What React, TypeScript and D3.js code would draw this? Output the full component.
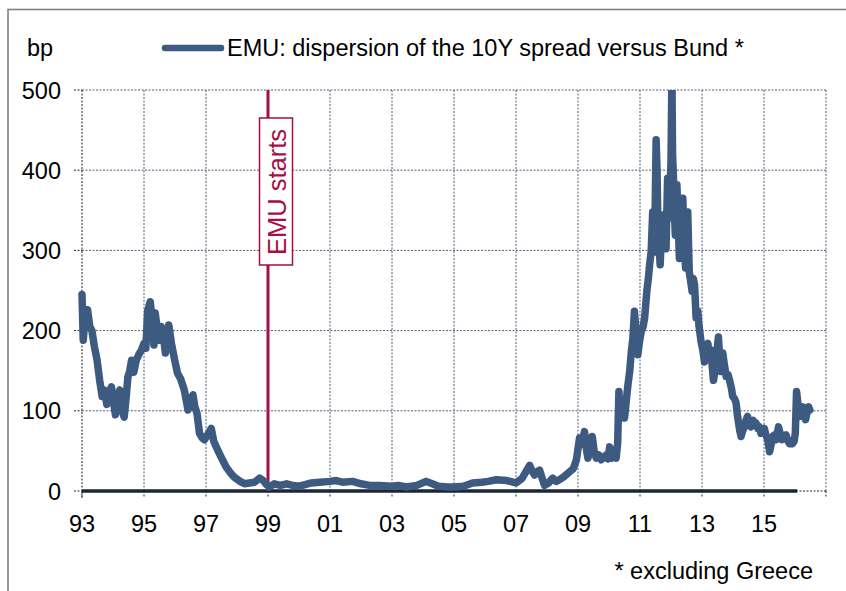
import React from "react";
import * as d3 from "d3";

const dates: number[] = [
  1993.00, 1993.04, 1993.10, 1993.18, 1993.25, 1993.32, 1993.40, 1993.48, 1993.57, 1993.65,
  1993.72, 1993.80, 1993.88, 1993.95, 1994.02, 1994.08, 1994.15, 1994.22, 1994.30, 1994.36,
  1994.42, 1994.48, 1994.54, 1994.60, 1994.67, 1994.75, 1994.83, 1994.92, 1995.00, 1995.06,
  1995.12, 1995.20, 1995.26, 1995.32, 1995.36, 1995.42, 1995.50, 1995.56, 1995.62, 1995.69,
  1995.80, 1995.88, 1995.99, 1996.08, 1996.18, 1996.30, 1996.42, 1996.50, 1996.58, 1996.64,
  1996.71, 1996.79, 1996.88, 1996.95, 1997.05, 1997.17, 1997.25, 1997.33, 1997.49, 1997.65,
  1997.80, 1997.92, 1998.10, 1998.24, 1998.40, 1998.57, 1998.73, 1998.85, 1998.95, 1999.05,
  1999.20, 1999.40, 1999.60, 1999.80, 2000.00, 2000.20, 2000.40, 2000.67, 2001.00, 2001.20,
  2001.40, 2001.73, 2002.00, 2002.28, 2002.60, 2003.00, 2003.20, 2003.47, 2003.80, 2004.10,
  2004.30, 2004.50, 2004.80, 2005.00, 2005.30, 2005.60, 2005.90, 2006.10, 2006.37, 2006.70,
  2007.00, 2007.20, 2007.35, 2007.44, 2007.52, 2007.60, 2007.68, 2007.76, 2007.85, 2007.92,
  2008.05, 2008.18, 2008.30, 2008.40, 2008.55, 2008.73, 2008.85, 2008.95, 2009.05, 2009.12,
  2009.21, 2009.28, 2009.32, 2009.40, 2009.46, 2009.52, 2009.59, 2009.67, 2009.75, 2009.83,
  2009.91, 2009.97, 2010.02, 2010.10, 2010.17, 2010.23, 2010.28, 2010.32, 2010.36, 2010.39,
  2010.44, 2010.50, 2010.55, 2010.61, 2010.67, 2010.72, 2010.77, 2010.82, 2010.88, 2010.93,
  2010.98, 2011.04, 2011.10, 2011.15, 2011.22, 2011.27, 2011.31, 2011.36, 2011.41, 2011.44,
  2011.47, 2011.52, 2011.55, 2011.57, 2011.61, 2011.65, 2011.69, 2011.73, 2011.78, 2011.84,
  2011.89, 2011.92, 2011.95, 2012.00, 2012.03, 2012.05, 2012.08, 2012.11, 2012.14, 2012.19,
  2012.23, 2012.27, 2012.33, 2012.38, 2012.42, 2012.47, 2012.50, 2012.54, 2012.57, 2012.59,
  2012.64, 2012.68, 2012.72, 2012.76, 2012.81, 2012.86, 2012.90, 2012.97, 2013.03, 2013.08,
  2013.13, 2013.19, 2013.24, 2013.29, 2013.33, 2013.37, 2013.42, 2013.46, 2013.53, 2013.57,
  2013.60, 2013.67, 2013.73, 2013.78, 2013.84, 2013.89, 2013.95, 2013.99, 2014.05, 2014.10,
  2014.14, 2014.18, 2014.22, 2014.26, 2014.31, 2014.37, 2014.42, 2014.47, 2014.52, 2014.58,
  2014.65, 2014.70, 2014.74, 2014.80, 2014.85, 2014.90, 2014.95, 2015.01, 2015.06, 2015.12,
  2015.18, 2015.23, 2015.28, 2015.34, 2015.39, 2015.43, 2015.47, 2015.52, 2015.58, 2015.64,
  2015.71, 2015.76, 2015.82, 2015.87, 2015.92, 2015.97, 2016.01, 2016.05, 2016.09, 2016.14,
  2016.19, 2016.25, 2016.30, 2016.34, 2016.39, 2016.44, 2016.48,
];

const spread: number[] = [
  245, 188, 218, 226, 205, 200, 180, 165, 138, 118,
  126, 108, 122, 130, 110, 95, 118, 126, 100, 92,
  115, 142, 150, 163, 148, 163, 170, 176, 184, 178,
  225, 236, 215, 182, 222, 205, 188, 205, 195, 172,
  207, 185, 163, 147, 140, 126, 101, 112, 120, 105,
  97, 72, 66, 64, 70, 78, 62, 55, 42, 30,
  22, 17, 12, 9, 10, 11, 16, 13, 8, 5,
  9, 7, 9, 7, 6, 8, 10, 11, 12, 13,
  11, 12, 9, 7, 7, 6, 7, 5, 7, 12,
  9, 6, 5, 5, 6, 10, 11, 12, 14, 13,
  10, 16, 26, 32, 25, 20, 24, 26, 15, 7,
  10, 16, 12, 14, 18, 24, 28, 39, 66, 58,
  74, 50, 41, 55, 68, 50, 41, 45, 39, 42,
  45, 40, 55, 41, 50, 41, 60, 124, 100, 91,
  105, 91, 110, 132, 150, 174, 190, 224, 195, 170,
  185, 199, 205, 216, 249, 265, 282, 298, 348, 310,
  298, 438, 400, 348, 310, 282, 320, 344, 320, 302,
  390, 340, 352, 410, 520, 420, 390, 350, 319, 382,
  340, 290, 330, 365, 320, 278, 310, 348, 300, 273,
  260, 249, 265, 257, 216, 225, 207, 186, 175, 161,
  180, 184, 165, 176, 155, 138, 150, 167, 192, 165,
  149, 172, 155, 143, 145, 138, 128, 118, 115, 110,
  95, 85, 75, 68, 75, 80, 88, 93, 85, 80,
  88, 82, 85, 78, 80, 72, 76, 78, 70, 64,
  49, 58, 68, 70, 64, 72, 80, 72, 64, 68,
  70, 63, 59, 62, 59, 62, 72, 124, 110, 93,
  100, 105, 96, 89, 98, 105, 101,
];

const zeroLineYears: number[] = [1993, 2016.07];
const xTickYears: number[] = [1993, 1995, 1997, 1999, 2001, 2003, 2005, 2007, 2009, 2011, 2013, 2015, 2017];
const xTickLabels: string[] = ["93", "95", "97", "99", "01", "03", "05", "07", "09", "11", "13", "15", ""];
const yTicks: number[] = [0, 100, 200, 300, 400, 500];
const emuStartYear = 1999;

const legendLabel = "EMU: dispersion of the 10Y spread versus Bund *";
const unitLabel = "bp";
const footnote = "* excluding Greece";
const emuLabel = "EMU starts";

const W = 846;
const H = 591;
const FONT = "'Liberation Sans', Arial, sans-serif";
const FS = 23.5;
const SERIES = "#3d5a80";
const CRIMSON = "#a50f45";
const GRID = "#4f5c78";

export default function App() {
  const x = d3.scaleLinear().domain([1993, 2017]).range([82, 826]);
  const y = d3.scaleLinear().domain([0, 500]).range([491, 90]);

  const pts = dates.map((d, i) => [d, spread[i]] as [number, number]);
  const line = d3
    .line<[number, number]>()
    .x((d) => x(d[0]))
    .y((d) => y(d[1]));

  const [x0, x1] = x.range();
  const [yb, yt] = y.range();
  const emuX = x(emuStartYear);

  return (
    <svg
      width={W}
      height={H}
      style={{ position: "absolute", left: 0, top: 0, background: "#fff" }}
      fontFamily={FONT}
    >
      <defs>
        <clipPath id="plotClip">
          <rect x={x0 - 10} y={yt} width={x1 - x0 + 20} height={yb - yt + 10} />
        </clipPath>
      </defs>
      <rect x={8} y={9.5} width={W} height={H} fill="#fff" stroke="#808080" strokeWidth={1.6} />

      {yTicks.map((t) =>
        t === 0 ? null : (
          <line key={"h" + t} x1={x0} x2={x1} y1={y(t)} y2={y(t)} stroke={GRID} strokeWidth={1} strokeDasharray="2 1.5" />
        )
      )}
      {xTickYears.map((t, i) =>
        i === 0 ? null : (
          <line key={"v" + t} x1={x(t)} x2={x(t)} y1={yt} y2={yb} stroke={GRID} strokeWidth={1} strokeDasharray="2 1.5" />
        )
      )}
      <line x1={x0} x2={x0} y1={yt} y2={yb + 7} stroke="#222" strokeWidth={1} strokeDasharray="2 1.5" />
      {yTicks.map((t) => (
        <line key={"yt" + t} x1={x0 - 8} x2={x0} y1={y(t)} y2={y(t)} stroke="#222" strokeWidth={1} strokeDasharray="2 1.5" />
      ))}
      {xTickYears.map((t) => (
        <line key={"xt" + t} x1={x(t)} x2={x(t)} y1={yb} y2={yb + 7} stroke="#222" strokeWidth={1} strokeDasharray="2 1.5" />
      ))}
      <line x1={x0} x2={x1} y1={yb} y2={yb} stroke="#222" strokeWidth={1} strokeDasharray="2 1.5" />

      <line
        x1={x(zeroLineYears[0])}
        x2={x(zeroLineYears[1])}
        y1={y(0)}
        y2={y(0)}
        stroke="#1b2636"
        strokeWidth={3.5}
      />

      <line x1={emuX} x2={emuX} y1={yt} y2={yb} stroke={CRIMSON} strokeWidth={3} />
      <rect x={emuX - 8.5} y={118} width={33} height={147} fill="#fff" stroke={CRIMSON} strokeWidth={1.5} />
      <text
        transform={`translate(${emuX + 17.5},192) rotate(-90)`}
        textAnchor="middle"
        fontSize={25.5}
        fill={CRIMSON}
      >
        {emuLabel}
      </text>

      <path
        d={line(pts) || ""}
        fill="none"
        stroke={SERIES}
        strokeWidth={7.5}
        strokeLinejoin="round"
        strokeLinecap="round"
        clipPath="url(#plotClip)"
      />

      {yTicks.map((t) => (
        <text key={"yl" + t} x={61} y={y(t) + 8.5} textAnchor="end" fontSize={FS} fill="#000">
          {t}
        </text>
      ))}
      {xTickYears.map((t, i) => (
        <text key={"xl" + t} x={x(t)} y={532} textAnchor="middle" fontSize={FS} fill="#000">
          {xTickLabels[i]}
        </text>
      ))}

      <text x={27} y={56} fontSize={FS} fill="#000">
        {unitLabel}
      </text>
      <line x1={165} x2={221} y1={48} y2={48} stroke={SERIES} strokeWidth={6.5} strokeLinecap="round" />
      <text x={227} y={56} fontSize={FS} fill="#000">
        {legendLabel}
      </text>

      <text x={813} y={579} textAnchor="end" fontSize={FS} fill="#000">
        {footnote}
      </text>
    </svg>
  );
}
